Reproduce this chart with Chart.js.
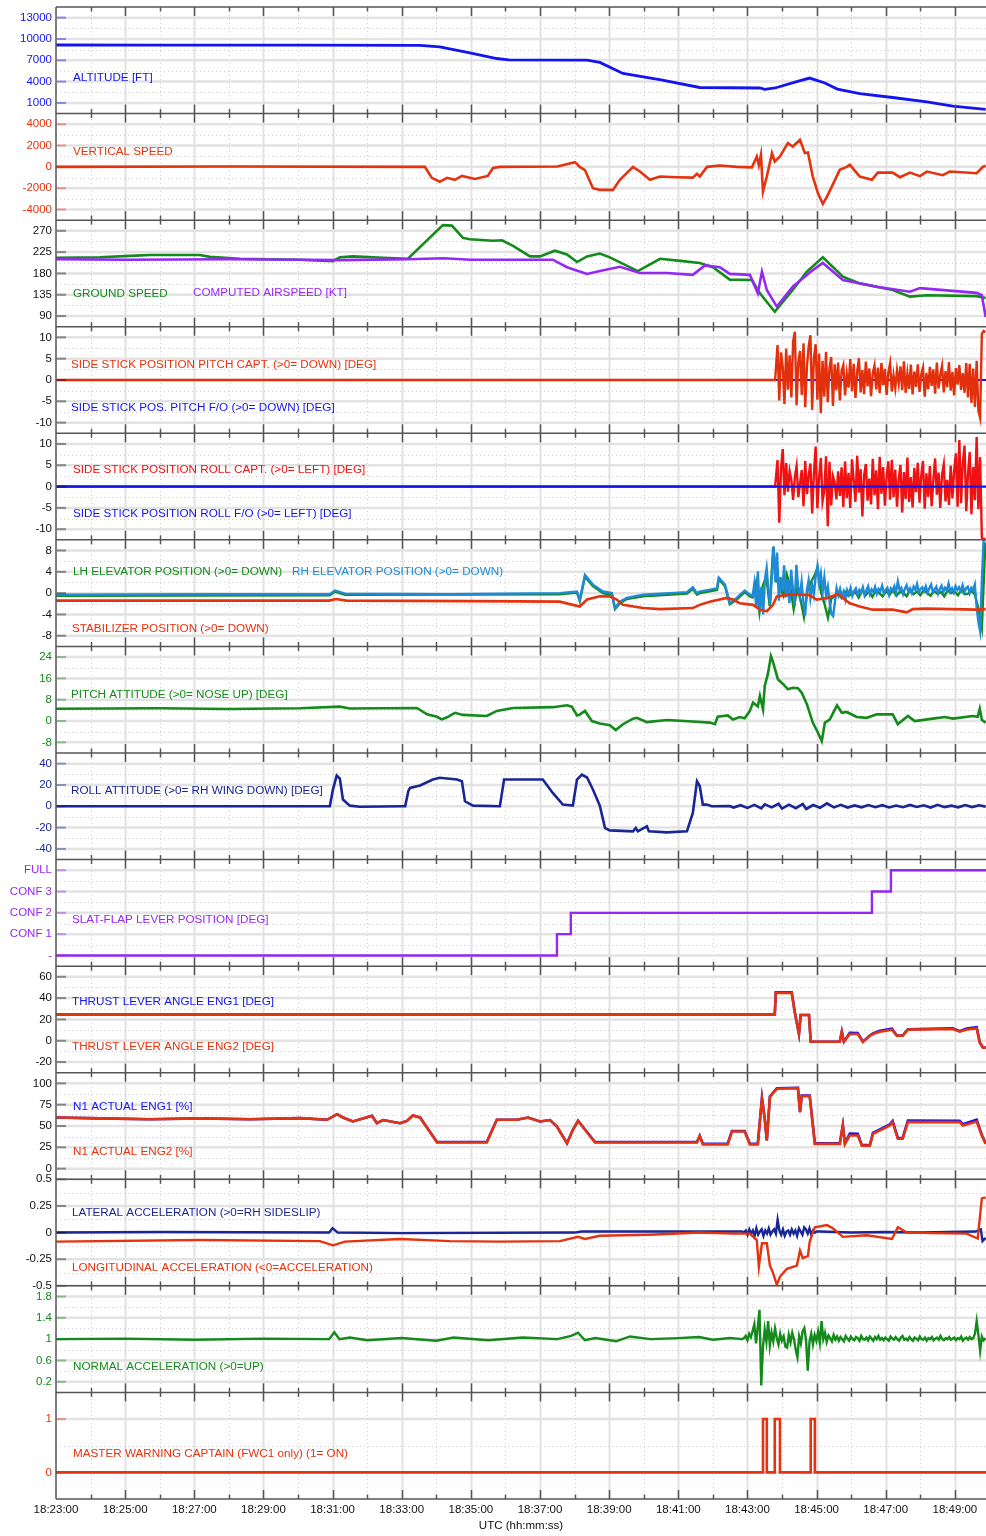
<!DOCTYPE html>
<html>
<head>
<meta charset="utf-8">
<title>FDR parameters</title>
<script src="https://cdn.jsdelivr.net/npm/chart.js@4.4.1/dist/chart.umd.min.js"></script>
<style>
  html, body { margin: 0; padding: 0; background: #fff; }
</style>
</head>
<body>
<canvas id="fdrChart" width="986" height="1536"></canvas>
<script>
// ===== TIME AXIS (minutes after 18:23:00 UTC) =====
const timeTicks = [0, 2, 4, 6, 8, 10, 12, 14, 16, 18, 20, 22, 24, 26];
const timeLabels = ['18:23:00', '18:25:00', '18:27:00', '18:29:00', '18:31:00', '18:33:00', '18:35:00',
                    '18:37:00', '18:39:00', '18:41:00', '18:43:00', '18:45:00', '18:47:00', '18:49:00'];
const timeEnd = 26.9;

// ===== Y TICKS PER PANEL =====
const altTicks = [1000, 4000, 7000, 10000, 13000];
const vsTicks = [-4000, -2000, 0, 2000, 4000];
const spdTicks = [90, 135, 180, 225, 270];
const stickTicks = [-10, -5, 0, 5, 10];
const elevTicks = [-8, -4, 0, 4, 8];
const pitchTicks = [-8, 0, 8, 16, 24];
const rollTicks = [-40, -20, 0, 20, 40];
const flapTicks = [0, 1, 2, 3, 4];
const flapLabels = ['-', 'CONF 1', 'CONF 2', 'CONF 3', 'FULL'];
const tlaTicks = [-20, 0, 20, 40, 60];
const n1Ticks = [0, 25, 50, 75, 100];
const accTicks = [-0.5, -0.25, 0, 0.25, 0.5];
const nzTicks = [0.2, 0.6, 1, 1.4, 1.8];
const mwTicks = [0, 1];

// ===== SERIES: [minute, value] =====
const altitude = [[0, 9150], [3, 9140], [7.06, 9120], [10.53, 9100], [11.1, 8900], [11.97, 8050], [12.75, 7250],
  [13.1, 7050], [15.36, 7020], [15.73, 6700], [16.4, 5140], [17.5, 4250], [18.62, 3170], [20.36, 3100],
  [20.5, 2900], [20.8, 3100], [21.5, 4100], [21.8, 4500], [22.24, 3800], [22.6, 2950], [23.25, 2320],
  [24.2, 1760], [25.19, 1140], [25.94, 535], [26.89, 80]];

const verticalSpeed = [[0, 0], [5, 30], [10.67, 0], [10.87, -1030], [11.1, -1400], [11.31, -1030], [11.54, -1220],
  [11.74, -850], [12.12, -1130], [12.49, -850], [12.64, -100], [12.84, 0], [14.5, 40], [15.01, 440], [15.15, 0],
  [15.3, -300], [15.53, -2000], [15.73, -2160], [16.11, -2160], [16.31, -1220], [16.69, 0], [16.89, -440],
  [17.18, -1220], [17.47, -910], [17.96, -970], [18.42, -1010], [18.54, -660], [18.62, -910], [18.83, 0],
  [19.2, 120], [19.69, 0], [20.13, -50], [20.27, 970], [20.33, 150], [20.39, 1130], [20.45, -2320],
  [20.56, -910], [20.71, 1290], [20.79, 500], [20.94, 970], [21.17, 2230], [21.31, 1910], [21.52, 2540],
  [21.66, 1290], [21.75, 1350], [21.89, -910], [22.04, -2475], [22.18, -3480], [22.3, -2790], [22.44, -1850],
  [22.67, -280], [22.87, 0], [22.96, 190], [23.25, -910], [23.6, -1220], [23.77, -540], [24.2, -540],
  [24.41, -970], [24.7, -540], [24.99, -870], [25.19, -440], [25.65, -780], [25.85, -440], [26.63, -600],
  [26.81, 0], [26.89, 100]];

const groundSpeed = [[0, 213], [1.27, 214], [2.14, 217], [2.72, 219], [4.16, 219], [4.45, 215], [5.32, 211],
  [7.06, 209], [8.01, 206], [8.21, 214], [8.59, 216], [9.46, 213], [10.18, 211], [11.19, 282], [11.45, 281],
  [11.77, 255], [11.97, 252], [12.64, 249], [12.9, 250], [13.22, 238], [13.71, 216], [14.0, 216], [14.43, 228],
  [14.78, 220], [15.07, 204], [15.36, 216], [15.73, 222], [16.02, 214], [16.83, 185], [17.47, 211],
  [18.13, 206], [18.62, 202], [19.0, 193], [19.49, 167], [20.13, 166], [20.36, 138], [20.79, 99], [21.31, 145],
  [21.72, 184], [22.18, 214], [22.76, 173], [23.25, 159], [24.2, 145], [24.7, 131], [25.19, 134],
  [26.63, 132], [26.89, 128]];

const airspeed = [[0, 210], [2, 209], [5, 210], [7.06, 209], [8.2, 208], [10.18, 210], [11.2, 212], [12, 209],
  [14.37, 209], [14.78, 193], [15.36, 179], [15.73, 185], [16.31, 194], [16.89, 181], [17.67, 181],
  [18.42, 177], [18.77, 197], [19.2, 193], [19.49, 179], [20.07, 177], [20.3, 138], [20.42, 184], [20.56, 145],
  [20.85, 110], [21.31, 152], [21.89, 187], [22.18, 202], [22.76, 166], [23.74, 152], [24.7, 141.5],
  [24.99, 149], [26.63, 139], [26.78, 134], [26.89, 88]];

// side sticks: flat part, then recorded samples spread evenly over a span
const stickPitchCapt = [[0, 0], [20.8, 0]];
const stickPitchCaptSpan = [20.82, 26.88];
const stickPitchCaptSamples = [0.0, 8.2, -4.8, 6.5, 3.1, -5.6, 7.4, -2.3, 5.8, -4.1, 9.0, 11.3, -5.9, 4.2, 6.8, -3.5, 8.6, -6.4, 3.3, 7.9,
  10.5, -7.0, 5.1, 8.4, -4.6, 6.2, -7.8, 4.5, -3.9, 6.6, -5.2, 2.8, 5.4, -6.1, 3.7, -2.4, 4.1, -4.8, 2.2, 3.5,
  -3.6, 1.4, -1.8, 4.9, -2.6, 3.8, -4.2, 1.9, 5.1, -2.9, 2.4, -3.3, 4.3, -1.5, 2.7, -3.8, 1.6, 3.4, -2.2, 2.9,
  -3.1, 4.0, -1.2, 2.6, -3.5, 1.8, 3.9, -2.7, 1.1, -1.9, 2.3, -0.8, 3.2, -2.4, 4.4, -3.0, 1.5, -2.1, 3.6, -3.4,
  2.0, -1.6, 3.7, -2.8, 1.3, 2.9, -3.9, 1.7, -2.2, 3.1, -1.4, 2.5, -3.2, 4.1, -2.0, 1.2, 3.3, -2.9, 2.1, -1.7,
  4.2, -2.5, 1.9, -3.6, 2.8, -1.1, 3.5, -2.3, 1.6, -3.0, 4.0, -4.1, 3.8, -5.4, 2.7, -6.3, 4.5, -7.2, -8.9, 10.8, 11.5, 11.2];
const stickPitchFo = [[0, 0], [26.9, 0]];

const stickRollCapt = [[0, 0], [20.8, 0]];
const stickRollCaptSpan = [20.82, 26.88];
const stickRollCaptSamples = [0.0, 6.2, -8.5, 4.1, 8.8, -2.0, 5.5, -1.2, 3.6, 1.5, -3.1, 2.2, 4.8, -2.5, 0.8, 3.9, -4.6, 6.0, -1.8, 2.7,
  5.4, -6.3, 3.0, 9.4, -5.1, 2.1, 6.7, -3.4, -1.0, 7.1, -9.3, 5.8, -4.4, 2.4, 1.0, -3.0, 3.6, -2.2, 4.5, -4.8,
  5.9, -2.7, 3.2, -5.0, 6.4, 1.5, -3.6, 7.2, -1.4, 4.1, -7.0, 2.6, 5.3, -3.3, 1.9, -4.2, 6.5, -2.0, 3.8, -5.3,
  7.0, -1.7, 4.6, -4.5, 2.3, 5.9, -3.1, 6.3, -2.5, 4.0, -4.7, 1.8, 5.1, -6.1, 3.4, -2.9, 6.8, -3.6, 2.2, -4.9,
  4.4, -1.3, 5.6, -3.8, 2.5, 6.0, -5.2, 3.1, -2.4, 4.8, -4.6, 1.5, 6.6, -1.9, 3.3, -5.0, 2.8, 5.2, -3.5, 1.6,
  -4.3, 4.9, -2.8, 3.7, 7.8, -4.7, 10.9, -3.9, 5.5, 9.6, -5.8, 2.9, 8.1, -6.5, 4.6, -3.2, 11.6, -5.3, 6.9, -12.0, -12.2, -12.3];
const stickRollFo = [[0, 0], [26.9, 0]];

// elevators and stabilizer
const elevRh = [[0, -0.3], [4.16, -0.2], [7.92, -0.2], [8.07, 0.5], [8.36, -0.1], [11.4, -0.2], [14.57, 0], [15.07, 0.3],
  [15.15, -1.3], [15.3, 3.4], [15.53, 1.6], [15.82, 0.3], [16.08, 0], [16.17, -2.8], [16.31, -1.6], [16.51, -0.9],
  [16.98, -0.3], [18.25, 0.2], [18.42, 1.1], [18.54, 0], [18.62, 0.3], [19.12, 0.9], [19.17, 2.9], [19.35, 1.6],
  [19.49, -1.9], [19.69, -0.9], [19.92, 0.5], [20.07, -0.3]];
const elevRhSpan = [20.15, 26.88];
const elevRhSamples = [-0.5, 1.8, -2.6, 4.1, -3.4, 1.2, -4.0, 2.5, 4.7, 0.6, -2.1, 3.3, 8.8, 2.0, 7.6, -1.4, 3.0, 0.3, 5.2, -0.8,
  2.6, -1.9, 4.4, 0.9, -2.4, 5.3, 1.1, -0.6, 2.1, -1.7, -4.2, 0.5, 2.4, -0.9, 1.6, -0.3, 3.1, 5.0, 1.8, 3.7,
  0.2, 2.9, -0.5, 1.2, -1.6, -3.9, -4.3, -1.8, 0.9, -0.4, 0.8, -0.6, 0.3, -1.2, 0.6, -0.2, 1.0, -0.5, 0.4, 0.9,
  -0.3, 0.6, 0.1, 1.1, -0.4, 0.5, 1.3, -0.2, 0.7, 0.2, 1.2, -0.1, 0.8, 0.4, 1.4, 0.0, 0.6, 1.0, -0.3, 0.9,
  0.5, 1.3, 0.1, 2.2, 0.6, 1.0, -0.2, 0.8, 1.5, 0.3, 0.9, 0.0, 1.2, 0.6, 1.7, 0.2, 0.8, 1.1, 0.4, 1.3,
  0.1, 0.9, 1.6, 0.3, 0.7, 1.2, -0.1, 0.8, 1.4, 0.2, 1.0, 0.5, 1.8, 0.3, 0.9, 0.1, 1.3, 0.6, 1.1, 0.4,
  1.5, 0.2, 0.9, 1.2, 0.0, 1.0, 0.6, 1.6, -2.5, -5.3, -7.1, 2.0, 9.8, 9.9];
const elevLh = [[0, -0.5], [7.92, -0.4], [8.07, 0.3], [8.36, -0.3], [14.57, -0.2], [15.07, 0.1], [15.15, -1.5],
  [15.3, 3.1], [15.53, 1.3], [15.82, 0.0], [16.08, -0.3], [16.17, -3.0], [16.31, -1.9], [16.51, -1.1],
  [16.98, -0.6], [18.25, -0.1], [18.42, 0.8], [18.54, -0.3], [18.62, 0.0], [19.12, 0.6], [19.17, 2.6],
  [19.35, 1.3], [19.49, -2.1], [19.69, -1.2], [19.92, 0.2], [20.07, -0.6]];
const elevLhSpan = [20.15, 26.88];
const elevLhSamples = [-0.8, 2.0, -3.6, 1.5, 3.0, -2.5, 8.6, 2.5, 1.0, -0.5, 3.5, 1.2, -3.0, 0.8, -1.2, -4.5, 0.4, 2.0, 3.2, 4.8,
  0.1, -2.0, -4.6, -1.0, -0.6, -0.2, -0.9, 0.3, -0.5, -0.1, 0.2, -0.8, 0.6, -0.4, 0.3, -0.7, 0.5, 0.0, -0.6, 0.4,
  -0.3, 0.6, -0.5, 0.2, 0.1, -0.6, 0.5, -0.2, 0.3, -0.4, 0.6, 0.0, -0.5, 0.4, -0.1, 0.2, -0.6, 0.5, 0.0, 0.3,
  -0.4, 0.6, -0.2, -0.1, 0.4, -0.3, -3.0, -6.5, 9.5];
const stabilizer = [[0, -1.4], [7.9, -1.4], [8.1, -1.1], [8.4, -1.4], [12, -1.5], [14.57, -1.6], [15.15, -2.5],
  [15.36, -1.2], [15.73, -0.6], [16.02, -0.6], [16.22, -1.2], [16.4, -2.2], [16.98, -2.8], [17.47, -3.0],
  [18.42, -2.8], [18.62, -2.2], [18.91, -1.6], [19.4, -0.9], [19.58, -1.2], [19.78, -1.9], [20.16, -2.2],
  [20.36, -3.1], [20.56, -3.4], [20.74, -2.2], [20.85, -0.6], [21.31, -0.2], [21.8, -0.4], [22.0, -1.2],
  [22.3, -0.9], [22.62, -0.2], [22.96, -1.9], [23.25, -2.5], [23.62, -3.1], [24.2, -3.1], [24.61, -3.6],
  [24.78, -3.0], [25.19, -2.9], [26.63, -3.1], [26.89, -3.0]];

const pitchAttitude = [[0, 4.6], [3, 4.8], [5, 4.5], [7.06, 4.8], [8.21, 5.4], [8.5, 4.7], [10.44, 4.9], [10.73, 2.5],
  [11.02, 1.6], [11.16, 0.6], [11.31, 1.4], [11.54, 3.1], [11.77, 2.3], [12.46, 1.9], [12.75, 3.8], [13.22, 4.9],
  [14.37, 5.2], [14.78, 5.9], [14.92, 5.4], [15.07, 2.1], [15.15, 2.4], [15.3, 3.8], [15.5, 0], [15.73, -0.9],
  [16.02, -1.6], [16.19, -3.4], [16.4, -1.2], [16.69, 0.9], [16.8, 1.2], [17.09, -0.4], [17.67, 0.4],
  [18.42, -0.2], [18.91, -0.6], [19.06, -1.2], [19.14, 1.6], [19.43, 2.1], [19.58, 0.6], [19.78, 1.5],
  [19.92, 1.0], [20.07, 3.8], [20.16, 6.9], [20.3, 5.5], [20.36, 9.4], [20.45, 4.4], [20.5, 13.2], [20.59, 17.6],
  [20.68, 24.4], [20.73, 22.6], [20.88, 15.7], [21.02, 14.0], [21.17, 11.9], [21.31, 12.5], [21.46, 12.3],
  [21.57, 10.6], [21.72, 6.3], [21.89, -0.6], [22.04, -4.4], [22.15, -7.5], [22.24, -0.6], [22.38, 0.5],
  [22.59, 5.9], [22.73, 3.1], [22.87, 3.4], [23.16, 1.5], [23.45, 1.2], [23.74, 2.5], [24.2, 2.5],
  [24.35, -1.2], [24.64, 1.9], [24.84, 0], [25.36, 0.9], [25.71, 1.5], [25.94, 0.9], [26.52, 1.9],
  [26.66, 1.6], [26.72, 4.6], [26.78, 0.5], [26.89, -0.6]];

const rollAttitude = [[0, 0], [7.92, 0], [8.01, 15.7], [8.12, 28.9], [8.21, 26], [8.3, 6.3], [8.5, 0.6], [8.79, -0.4],
  [10.0, 0], [10.1, 0], [10.19, 14.1], [10.24, 17.2], [10.53, 19.5], [10.9, 25.1], [11.1, 26.7], [11.6, 25.1],
  [11.74, 23.5], [11.83, 4.7], [12.06, 0.6], [12.84, 0], [12.96, 25.1], [14.08, 25.1], [14.37, 12.5],
  [14.66, 1.6], [14.95, 0.6], [15.07, 25.1], [15.21, 29.8], [15.36, 27], [15.53, 15.7], [15.73, 0.6],
  [15.88, -20.4], [16.02, -22.6], [16.69, -23.5], [16.77, -20.4], [16.83, -23.5], [17.09, -18.8],
  [17.15, -23.5], [17.67, -24.5], [18.25, -23.5], [18.42, -6.3], [18.54, 23.5], [18.62, 19], [18.71, 1.6],
  [18.82, 1.6], [18.97, 0], [19.49, 0.3], [19.6, -1.2], [19.8, 1.0], [20.0, -1.5], [20.2, 1.3], [20.4, -2.0],
  [20.5, 1.8], [20.7, -1.0], [20.9, 2.4], [21.0, -2.2], [21.2, 1.5], [21.4, -1.8], [21.6, 2.2], [21.7, -2.5],
  [21.9, 1.2], [22.1, -1.4], [22.3, 2.8], [22.5, -1.0], [22.7, 1.4], [22.9, -1.2], [23.1, 0.8], [23.3, -1.0],
  [23.5, 1.2], [23.7, -0.8], [23.9, 1.0], [24.1, -1.1], [24.3, 0.7], [24.5, -0.9], [24.7, 1.3], [24.9, -0.6],
  [25.1, 0.9], [25.3, -1.2], [25.5, 1.4], [25.7, -0.8], [25.9, 0.6], [26.1, -1.0], [26.3, 1.1], [26.5, -0.7],
  [26.7, 0.9], [26.89, -0.3]];

// lever position changes (stepped)
const slatFlap = [[0, 0], [14.49, 1], [14.89, 2], [23.6, 3], [24.15, 4], [26.9, 4]];

const tlaEng2 = [[0, 24.5], [20.79, 24.5], [20.82, 44.9], [21.28, 44.9], [21.37, 26.7], [21.49, 6.3], [21.54, 24.2],
  [21.78, 24.2], [21.83, -0.9], [22.67, -0.9], [22.73, 8.5], [22.79, -0.9], [22.96, 6.3], [23.19, 6.3],
  [23.34, -0.9], [23.54, 4.7], [23.63, 6.3], [23.83, 8.5], [24.18, 10.4], [24.32, 4.7], [24.49, 4.7],
  [24.64, 10.4], [25.94, 11.0], [26.14, 8.5], [26.34, 10.6], [26.63, 11.6], [26.72, -1.6], [26.81, -6.3], [26.89, -6.5]];
const tlaEng1 = [[0, 24.5], [20.79, 24.5], [20.82, 45.4], [21.28, 45.4], [21.37, 26.7], [21.49, 6.3], [21.54, 24.2],
  [21.78, 24.2], [21.83, -0.9], [22.67, -0.9], [22.73, 8.5], [22.79, -0.9], [22.96, 7.4], [23.19, 7.2],
  [23.34, -0.9], [23.54, 4.9], [23.63, 6.8], [23.83, 9.4], [24.18, 11.3], [24.32, 4.9], [24.49, 4.9],
  [24.64, 10.8], [25.94, 11.6], [26.14, 9.0], [26.34, 11.4], [26.63, 12.8], [26.72, -1.6], [26.81, -6.3], [26.89, -6.5]];

const n1Eng2 = [[0, 60], [1.27, 59], [2.72, 58], [4.16, 59], [5.61, 58], [7.06, 59.2], [7.84, 57.3], [8.13, 63.9],
  [8.3, 60], [8.59, 55.3], [9.14, 62], [9.28, 53.3], [9.46, 57], [9.95, 53.3], [10.15, 56], [10.32, 62.3],
  [10.53, 60], [11.02, 30.6], [12.46, 30.6], [12.75, 57.3], [13.33, 57.3], [13.65, 60], [14.0, 55.3], [14.29, 57],
  [14.49, 49.4], [14.78, 29.8], [14.95, 45.5], [15.1, 56.1], [15.59, 30.6], [18.54, 30.6], [18.62, 38.5],
  [18.71, 28.5], [19.43, 28.5], [19.55, 43.5], [19.92, 43.5], [20.07, 28.5], [20.3, 28.5], [20.42, 82],
  [20.5, 58.5], [20.56, 33], [20.65, 83.9], [20.85, 93.7], [21.46, 94.4], [21.52, 66.2], [21.57, 85], [21.8, 85],
  [21.95, 29], [22.67, 29], [22.76, 50.6], [22.82, 29], [22.96, 38.8], [23.19, 38.8], [23.31, 27], [23.54, 27],
  [23.63, 40.8], [24.12, 50.6], [24.2, 54.5], [24.35, 35], [24.49, 35], [24.64, 54.5], [26.14, 54.5],
  [26.23, 50.6], [26.63, 55.3], [26.78, 38.8], [26.89, 29]];
const n1Eng1 = [[0, 60], [1.27, 59], [2.72, 58], [4.16, 59], [5.61, 58], [7.06, 59.2], [7.84, 57.3], [8.13, 63.9],
  [8.3, 60], [8.59, 55.3], [9.14, 62], [9.28, 53.3], [9.46, 57], [9.95, 53.3], [10.15, 56], [10.32, 62.3],
  [10.53, 60], [11.02, 31.2], [12.46, 31.2], [12.75, 57.3], [13.33, 57.3], [13.65, 60], [14.0, 55.3], [14.29, 57],
  [14.49, 49.4], [14.78, 29.8], [14.95, 45.5], [15.1, 56.1], [15.59, 31.2], [18.54, 31.2], [18.62, 38.5],
  [18.71, 29.2], [19.43, 29.2], [19.55, 44.2], [19.92, 44.2], [20.07, 29.2], [20.3, 29.2], [20.42, 83],
  [20.5, 58.5], [20.56, 33], [20.65, 84.6], [20.85, 94.2], [21.46, 94.8], [21.52, 66.2], [21.57, 85.6], [21.8, 85.6],
  [21.95, 29.6], [22.67, 29.6], [22.76, 51.2], [22.82, 29.6], [22.96, 41.2], [23.19, 41.0], [23.31, 27.6],
  [23.54, 27.6], [23.63, 42.0], [24.12, 52.0], [24.2, 56.0], [24.35, 36.0], [24.49, 36.0], [24.64, 56.5],
  [26.14, 56.2], [26.23, 52.0], [26.63, 57.5], [26.78, 39.5], [26.89, 29.5]];

const lateralAcc = [[0, 0.0], [3, 0.005], [7.9, 0.0], [8.0, 0.04], [8.15, 0.0], [10, -0.005], [15, 0.0], [15.2, 0.01], [19.85, 0.01]];
const lateralAccSpan = [19.9, 22.0];
const lateralAccSamples = [0.00, 0.02, -0.02, 0.03, -0.01, 0.02, -0.03, 0.04, -0.02, 0.01, 0.03, -0.03, 0.02, -0.01,
  0.04, -0.02, 0.01, 0.03, -0.01, 0.12, 0.02, -0.02, 0.03, -0.03, 0.01, 0.02, -0.02, 0.03, -0.01, 0.02, -0.03,
  0.04, 0.01, -0.02, 0.05, 0.03, -0.01, 0.04, -0.02, 0.02, 0.00, 0.01];
const lateralAccTail = [[22.1, 0.01], [23, 0.0], [24, 0.005], [25, 0.0], [26.6, 0.01], [26.75, 0.03], [26.8, -0.08], [26.89, -0.05]];
const longitudinalAcc = [[0, -0.085], [4.16, -0.07], [7.63, -0.08], [8.01, -0.12], [8.36, -0.085], [9.95, -0.06],
  [11.39, -0.08], [12.84, -0.085], [14.57, -0.08], [15.1, -0.04], [15.3, -0.06], [15.73, -0.03], [17.18, -0.02],
  [18.62, 0.0], [19.58, -0.01], [20.07, -0.01], [20.27, -0.07], [20.33, -0.32], [20.42, -0.1], [20.56, -0.1],
  [20.65, -0.31], [20.73, -0.37], [20.85, -0.49], [20.94, -0.415], [21.14, -0.34], [21.43, -0.31], [21.52, -0.17],
  [21.6, -0.24], [21.75, -0.22], [21.8, -0.087], [21.89, 0.0], [21.95, 0.05], [22.3, 0.07], [22.47, 0.04],
  [22.76, -0.04], [23.45, -0.025], [24.18, -0.06], [24.35, 0.05], [24.61, 0.0], [25.36, -0.005], [26.34, -0.01],
  [26.66, -0.056], [26.78, 0.32], [26.89, 0.33]];

const normalAcc = [[0, 1.0], [2, 1.01], [4, 0.99], [6, 1.01], [7.9, 1.0], [8.05, 1.13], [8.2, 1.0], [8.5, 1.03],
  [9, 0.98], [10, 1.02], [11, 0.97], [11.5, 1.03], [12.5, 0.98], [13.5, 1.03], [14.5, 1.0], [14.9, 1.06],
  [15.1, 1.12], [15.3, 0.98], [15.6, 1.02], [16.2, 0.96], [16.6, 1.05], [17.2, 1.0], [18.0, 1.02], [18.6, 1.04],
  [19.0, 0.99], [19.5, 1.02], [19.85, 1.0]];
const normalAccSpan = [19.9, 26.88];
const normalAccSamples = [1.02, 1.06, 0.98, 1.10, 1.04, 1.15, 1.28, 0.92, 1.22, 1.55, 0.13, 0.85, 1.18, 0.95, 1.34, 0.88, 1.12, 0.96, 1.20, 1.02,
  0.90, 1.10, 0.97, 1.05, 0.86, 0.84, 1.08, 0.94, 1.12, 1.00, 0.80, 0.66, 1.05, 0.92, 1.15, 1.21, 0.98, 0.41, 0.95, 1.10,
  0.90, 1.08, 0.97, 1.14, 0.93, 1.34, 1.00, 1.12, 0.95, 1.07, 1.02, 0.96, 1.08, 0.99, 1.05, 0.97, 1.04, 1.00, 0.96, 1.06,
  1.01, 0.97, 1.05, 1.00, 0.98, 1.04, 1.02, 0.97, 1.06, 1.00, 0.99, 1.03, 0.98, 1.05, 1.01, 0.97, 1.04, 1.00, 1.06, 0.99,
  1.02, 0.98, 1.03, 1.00, 0.97, 1.05, 1.01, 0.99, 1.04, 1.00, 0.97, 1.03, 1.06, 0.99, 1.01, 0.98, 1.04, 1.00, 0.97, 1.03,
  1.01, 0.98, 1.05, 1.00, 0.99, 1.03, 0.97, 1.02, 1.00, 1.04, 0.98, 1.01, 1.03, 0.99, 1.06, 1.00, 0.98, 1.02, 1.00, 1.04,
  0.99, 1.01, 1.03, 0.98, 1.02, 1.00, 1.05, 0.97, 1.01, 1.03, 0.99, 1.04, 1.00, 1.02, 1.10, 1.34, 1.08, 0.78, 1.05, 0.98, 1.02];

// warning on/off changes (stepped)
const masterWarning = [[0, 0], [20.45, 1], [20.56, 0], [20.79, 1], [20.94, 0], [21.83, 1], [21.95, 0], [26.9, 0]];

// ===== COLOURS =====
const BLUE = '#1414f0';
const RED = '#e5330f';
const BRIGHT_RED = '#f01212';
const GREEN = '#138a1a';
const PURPLE = '#9628f5';
const NAVY = '#1a2696';
const SKY = '#1f8ad6';
const INK = '#111111';

// ===== PANELS (top to bottom) =====
const panels = [
  { id: 'yAlt', ticks: altTicks, min: -500, max: 14500, tickColor: BLUE },
  { id: 'yVs', ticks: vsTicks, min: -5000, max: 5000, tickColor: RED },
  { id: 'ySpd', ticks: spdTicks, min: 67.5, max: 292.5, tickColor: INK },
  { id: 'yStickPitch', ticks: stickTicks, min: -12.5, max: 12.5, tickColor: INK },
  { id: 'yStickRoll', ticks: stickTicks, min: -12.5, max: 12.5, tickColor: INK },
  { id: 'yElev', ticks: elevTicks, min: -10, max: 10, tickColor: INK },
  { id: 'yPitch', ticks: pitchTicks, min: -12, max: 28, tickColor: GREEN },
  { id: 'yRoll', ticks: rollTicks, min: -50, max: 50, tickColor: NAVY },
  { id: 'yFlap', ticks: flapTicks, min: -0.5, max: 4.5, tickColor: PURPLE, format: v => flapLabels[v] },
  { id: 'yTla', ticks: tlaTicks, min: -30, max: 70, tickColor: INK },
  { id: 'yN1', ticks: n1Ticks, min: -12.5, max: 112.5, tickColor: INK },
  { id: 'yAcc', ticks: accTicks, min: -0.5, max: 0.5, tickColor: INK },
  { id: 'yNz', ticks: nzTicks, min: 0, max: 2, tickColor: GREEN },
  { id: 'yMw', ticks: mwTicks, min: -0.5, max: 1.5, tickColor: RED }
];

// series name texts: [axis, text, value on axis, offset from plot left, colour]
const panelTexts = [
  ['yAlt', 'ALTITUDE [FT]', 4500, 17, BLUE],
  ['yVs', 'VERTICAL SPEED', 1400, 17, RED],
  ['ySpd', 'GROUND SPEED', 137, 17, GREEN],
  ['ySpd', 'COMPUTED AIRSPEED [KT]', 139, 137, PURPLE],
  ['yStickPitch', 'SIDE STICK POSITION PITCH CAPT. (>0= DOWN) [DEG]', 3.5, 15, RED],
  ['yStickPitch', 'SIDE STICK POS. PITCH F/O (>0= DOWN) [DEG]', -6.6, 15, BLUE],
  ['yStickRoll', 'SIDE STICK POSITION ROLL CAPT. (>0= LEFT) [DEG]', 4.0, 17, BRIGHT_RED],
  ['yStickRoll', 'SIDE STICK POSITION ROLL F/O (>0= LEFT) [DEG]', -6.4, 17, BLUE],
  ['yElev', 'LH ELEVATOR POSITION (>0= DOWN)', 4.1, 17, GREEN],
  ['yElev', 'RH ELEVATOR POSITION (>0= DOWN)', 4.1, 236, SKY],
  ['yElev', 'STABILIZER POSITION (>0= DOWN)', -6.6, 16, RED],
  ['yPitch', 'PITCH ATTITUDE (>0= NOSE UP) [DEG]', 9.8, 15, GREEN],
  ['yRoll', 'ROLL ATTITUDE (>0= RH WING DOWN) [DEG]', 14.1, 15, NAVY],
  ['yFlap', 'SLAT-FLAP LEVER POSITION [DEG]', 1.69, 16, PURPLE],
  ['yTla', 'THRUST LEVER ANGLE ENG1 [DEG]', 36.7, 16, BLUE],
  ['yTla', 'THRUST LEVER ANGLE ENG2 [DEG]', -5.6, 16, RED],
  ['yN1', 'N1 ACTUAL ENG1 [%]', 72.9, 17, BLUE],
  ['yN1', 'N1 ACTUAL ENG2 [%]', 20, 17, RED],
  ['yAcc', 'LATERAL ACCELERATION (>0=RH SIDESLIP)', 0.1875, 16, NAVY],
  ['yAcc', 'LONGITUDINAL ACCELERATION (<0=ACCELERATION)', -0.33, 16, RED],
  ['yNz', 'NORMAL ACCELERATION (>0=UP)', 0.49, 17, GREEN],
  ['yMw', 'MASTER WARNING CAPTAIN (FWC1 only) (1= ON)', 0.34, 17, RED]
];

Chart.defaults.font.family = 'Arial, "Liberation Sans", sans-serif';

function pts(list) {
  return list.map(([t, v]) => ({ x: t, y: v }));
}
// recorded samples placed evenly between the start and end of their span
function spread(span, values) {
  const step = (span[1] - span[0]) / (values.length - 1);
  return values.map((v, i) => ({ x: span[0] + i * step, y: v }));
}
function series(label, data, yAxisID, color, width, order, extra) {
  return Object.assign({
    label: label, data: data, yAxisID: yAxisID, borderColor: color, backgroundColor: color,
    borderWidth: width, pointRadius: 0, tension: 0, fill: false, order: order
  }, extra || {});
}

const datasets = [
  series('Altitude', pts(altitude), 'yAlt', BLUE, 2.8, 5),
  series('Vertical speed', pts(verticalSpeed), 'yVs', RED, 2.6, 5),
  series('Computed airspeed', pts(airspeed), 'ySpd', PURPLE, 2.6, 4),
  series('Ground speed', pts(groundSpeed), 'ySpd', GREEN, 2.6, 5),
  series('Side stick pitch capt', pts(stickPitchCapt).concat(spread(stickPitchCaptSpan, stickPitchCaptSamples)), 'yStickPitch', '#e2300c', 2.4, 4),
  series('Side stick pitch F/O', pts(stickPitchFo), 'yStickPitch', BLUE, 2, 5),
  series('Side stick roll F/O', pts(stickRollFo), 'yStickRoll', BLUE, 2.2, 4),
  series('Side stick roll capt', pts(stickRollCapt).concat(spread(stickRollCaptSpan, stickRollCaptSamples)), 'yStickRoll', BRIGHT_RED, 2.4, 5),
  series('Stabilizer', pts(stabilizer), 'yElev', RED, 2.6, 3),
  series('RH elevator', pts(elevRh).concat(spread(elevRhSpan, elevRhSamples)), 'yElev', SKY, 2.4, 4),
  series('LH elevator', pts(elevLh).concat(spread(elevLhSpan, elevLhSamples)), 'yElev', GREEN, 2.4, 5),
  series('Pitch attitude', pts(pitchAttitude), 'yPitch', GREEN, 2.6, 5),
  series('Roll attitude', pts(rollAttitude), 'yRoll', NAVY, 2.6, 5),
  series('Slat-flap lever', pts(slatFlap), 'yFlap', PURPLE, 2.4, 5, { stepped: true }),
  series('TLA eng2', pts(tlaEng2), 'yTla', RED, 2.6, 4),
  series('TLA eng1', pts(tlaEng1), 'yTla', BLUE, 2.6, 5),
  series('N1 eng2', pts(n1Eng2), 'yN1', RED, 2.6, 4),
  series('N1 eng1', pts(n1Eng1), 'yN1', BLUE, 2.6, 5),
  series('Longitudinal acc', pts(longitudinalAcc), 'yAcc', RED, 2.4, 4),
  series('Lateral acc', pts(lateralAcc).concat(spread(lateralAccSpan, lateralAccSamples), pts(lateralAccTail)), 'yAcc', NAVY, 2.4, 5),
  series('Normal acc', pts(normalAcc).concat(spread(normalAccSpan, normalAccSamples)), 'yNz', GREEN, 2.4, 5),
  series('Master warning', pts(masterWarning), 'yMw', RED, 2.6, 5, { stepped: true })
];

// ===== SCALES =====
const scales = {
  x: {
    type: 'linear', position: 'bottom', min: 0, max: timeEnd,
    grid: { display: false, drawTicks: false }, border: { display: false },
    afterBuildTicks: axis => { axis.ticks = timeTicks.map(v => ({ value: v })); },
    afterFit: axis => { axis.height = 37; },
    ticks: {
      color: '#111', font: { size: 11.5 }, padding: 4, maxRotation: 0, autoSkip: false,
      callback: v => timeLabels[timeTicks.indexOf(v)]
    },
    title: { display: true, text: 'UTC (hh:mm:ss)', color: '#111', font: { size: 11.5 }, padding: { top: 0, bottom: 3 } }
  }
};
// stacked left axes are laid out from the last one added at the top
panels.slice().reverse().forEach(p => {
  scales[p.id] = {
    type: 'linear', position: 'left', stack: 'fdr', stackWeight: 1,
    min: p.min, max: p.max,
    grid: { display: false, drawTicks: false }, border: { display: false },
    afterBuildTicks: axis => { axis.ticks = p.ticks.map(v => ({ value: v })); },
    afterFit: axis => { axis.width = 56; axis.paddingTop = 0; axis.paddingBottom = 0; },
    ticks: { color: p.tickColor, font: { size: 11.5 }, padding: 4, autoSkip: false, callback: p.format || (v => String(v)) }
  };
});

// ===== GRID, PANEL FRAMES AND TEXTS =====
const panelDeco = {
  id: 'panelDeco',
  beforeDatasetsDraw(chart) {
    const { ctx, chartArea: a, scales: s } = chart;
    const xs = s.x;
    ctx.save();
    for (let m = 1; m <= 26; m++) {
      const px = Math.round(xs.getPixelForValue(m)) + 0.5;
      ctx.beginPath();
      if (m % 2 === 0) {
        ctx.setLineDash([]); ctx.strokeStyle = '#e2e2e2'; ctx.lineWidth = 2;
      } else {
        ctx.setLineDash([1, 3]); ctx.strokeStyle = '#cfcfcf'; ctx.lineWidth = 1;
      }
      ctx.moveTo(px, a.top); ctx.lineTo(px, a.bottom); ctx.stroke();
    }
    panels.forEach(p => {
      const sc = s[p.id];
      ctx.setLineDash([]); ctx.strokeStyle = '#e3e3e3'; ctx.lineWidth = 2.5;
      p.ticks.forEach(v => {
        const py = sc.getPixelForValue(v);
        ctx.beginPath(); ctx.moveTo(a.left, py); ctx.lineTo(a.right, py); ctx.stroke();
      });
      ctx.setLineDash([1, 3]); ctx.strokeStyle = '#cfcfcf'; ctx.lineWidth = 1;
      for (let i = 0; i < p.ticks.length - 1; i++) {
        const py = Math.round(sc.getPixelForValue((p.ticks[i] + p.ticks[i + 1]) / 2)) + 0.5;
        ctx.beginPath(); ctx.moveTo(a.left, py); ctx.lineTo(a.right, py); ctx.stroke();
      }
    });
    ctx.restore();
  },
  afterDatasetsDraw(chart) {
    const { ctx, chartArea: a, scales: s } = chart;
    const xs = s.x;
    ctx.save();
    ctx.setLineDash([]);
    // coloured tick marks inside the plot
    panels.forEach(p => {
      const sc = s[p.id];
      ctx.globalAlpha = 0.45; ctx.strokeStyle = p.tickColor; ctx.lineWidth = 2;
      p.ticks.forEach(v => {
        const py = sc.getPixelForValue(v);
        ctx.beginPath(); ctx.moveTo(a.left + 1, py); ctx.lineTo(a.left + 10, py); ctx.stroke();
      });
    });
    ctx.globalAlpha = 1;
    // panel frames with minute ticks
    ctx.strokeStyle = '#555'; ctx.lineWidth = 1.5;
    const frame = (y, up, down) => {
      ctx.beginPath(); ctx.moveTo(a.left, y); ctx.lineTo(a.right, y); ctx.stroke();
      for (let m = 1; m <= 26; m++) {
        const px = Math.round(xs.getPixelForValue(m)) + 0.5;
        const len = m % 2 === 0 ? 9 : 4.5;
        ctx.beginPath(); ctx.moveTo(px, y - (up ? len : 0)); ctx.lineTo(px, y + (down ? len : 0)); ctx.stroke();
      }
    };
    panels.forEach((p, i) => frame(s[p.id].top, i > 0, true));
    frame(a.bottom, true, false);
    ctx.beginPath(); ctx.moveTo(a.left, a.top); ctx.lineTo(a.left, a.bottom); ctx.stroke();
    // series names
    ctx.font = '11.7px Arial, "Liberation Sans", sans-serif';
    ctx.textBaseline = 'middle';
    ctx.textAlign = 'left';
    panelTexts.forEach(([id, text, v, dx, color]) => {
      ctx.fillStyle = color;
      ctx.fillText(text, a.left + dx, s[id].getPixelForValue(v));
    });
    ctx.restore();
  }
};

const fdrChart = new Chart(document.getElementById('fdrChart'), {
  type: 'line',
  data: { datasets: datasets },
  options: {
    responsive: false,
    animation: false,
    devicePixelRatio: 1,
    layout: { padding: { top: 7, left: 0, right: 0, bottom: 0 } },
    plugins: { legend: { display: false }, tooltip: { enabled: false } },
    scales: scales
  },
  plugins: [panelDeco]
});
</script>
</body>
</html>
